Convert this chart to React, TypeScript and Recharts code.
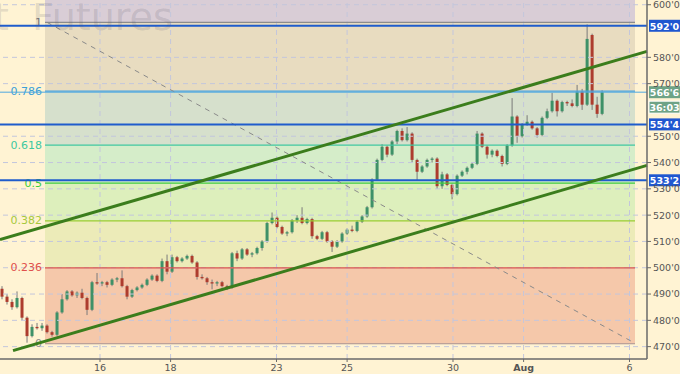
import React from "react";
import { ComposedChart, Bar, XAxis, YAxis, ReferenceArea, ReferenceLine } from "recharts";

// x axis: trading-day index, 0 = Jul 16
const dayTicks = [0, 2, 5, 7, 10, 12, 15];
const dayLabels = ["16", "18", "23", "25", "30", "Aug", "6"];
const priceTicks = [470, 480, 490, 500, 510, 520, 530, 540, 550, 570, 580, 600];

const firstBar = -2.776;
const barStep = 0.14167;

const opens = [
  492, 489, 487, 485, 488.5, 481, 474, 477.5, 477, 478, 475.5, 474.5, 483, 488, 491, 489.5, 490.5, 488.5, 484, 494.5,
  494, 494.5, 493.5, 495.5, 496, 493, 489, 491.5, 492.5, 493.5, 495.5, 497, 495, 502.5, 498.5, 504, 502.5, 503.5, 504.5, 502,
  496.5, 496, 494.5, 494, 494.5, 493, 492.5, 505.5, 503.5, 507, 505, 505.5, 507.5, 510, 517, 519, 515.5, 513, 513.5, 518,
  519, 517, 518.5, 512, 511, 513.5, 510, 508, 510, 513, 514.5, 514, 517.5, 519.5, 523, 533.5, 541, 546, 543, 548,
  552, 548.5, 551, 541, 536.5, 538.5, 541, 541.5, 531, 535.5, 531.5, 528, 535, 536.5, 538, 539.5, 551, 546, 543, 544.5,
  542.5, 539.5, 546.5, 557.5, 550, 554.5, 555.5, 553, 550.5, 557, 559.5, 563.5, 559.5, 563, 562.5, 561.5, 567, 562, 588.5, 562,
  558.5,
];
const highs = [
  493, 490, 488, 491, 489, 481.5, 478.5, 479, 479, 478.5, 476, 483.5, 490, 491.5, 491.5, 491, 492, 489, 495, 498,
  495, 495, 496, 496.5, 499, 493.5, 492, 493, 494, 496, 497.5, 497.5, 503.5, 505, 505, 504.5, 504, 505, 505, 502.5,
  497.5, 496.5, 495.5, 495, 495, 493.5, 506, 506.5, 507.5, 507.5, 506, 508, 510.5, 517.5, 521, 519.5, 516, 514, 518.5, 520,
  523, 519, 519, 512.5, 514, 514, 510.5, 510.5, 513.5, 515, 516, 518, 520, 523.5, 534, 541.5, 547, 546.5, 548.5, 552.5,
  553, 553.5, 551.5, 541.5, 539, 541.5, 542, 542, 536.5, 536, 532, 535.5, 537, 538.5, 540, 552, 551.5, 546.5, 545, 545,
  543, 547, 564.5, 558, 555, 558, 556, 553.5, 557.5, 560.5, 566.5, 564, 563.5, 563.5, 564, 569.5, 568, 592.5, 589, 565,
  567.5,
];
const lows = [
  488, 486, 484, 484.5, 480, 471.5, 473.5, 476.5, 476, 475, 473.8, 474, 482.5, 487.5, 489, 488.5, 488, 482, 483.5, 493.5,
  493, 492.5, 493, 494.5, 492.5, 488, 488.5, 491, 492, 493, 495, 494.5, 494.5, 497.5, 498, 502, 502, 503, 501.5, 495.5,
  495.5, 493.5, 491.8, 493, 492.5, 491.5, 492, 502.5, 503, 504.5, 504, 505, 506.5, 509.5, 516.5, 515, 512.5, 512, 513, 517,
  516.5, 516.5, 511, 510.5, 510.5, 509.5, 506, 507.5, 509.5, 512.5, 513.5, 513.5, 517, 519, 522.5, 533, 540.5, 542, 542.5, 547,
  548, 548, 540, 533, 536, 538, 540, 530, 530, 531, 526, 527.5, 534.5, 535.5, 537.5, 539, 545.5, 541.5, 542, 542,
  538.5, 539, 546, 547.5, 549.5, 554, 552.5, 549.5, 550, 556.5, 559, 557.5, 559, 561.5, 561, 561, 560, 561.5, 560, 557,
  558,
];
const closes = [
  489, 487, 485, 488.5, 481, 474, 477.5, 477, 478, 475.5, 474.5, 483, 488, 491, 489.5, 490.5, 488.5, 484, 494.5, 494,
  494.5, 493.5, 495.5, 496, 493, 489, 491.5, 492.5, 493.5, 495.5, 497, 495, 502.5, 498.5, 504, 502.5, 503.5, 504.5, 502, 496.5,
  496, 494.5, 494, 494.5, 493, 492.5, 505.5, 503.5, 507, 505, 505.5, 507.5, 510, 517, 519, 515.5, 513, 513.5, 518, 519,
  517, 518.5, 512, 511, 513.5, 510, 508, 510, 513, 514.5, 514, 517.5, 519.5, 523, 533.5, 541, 546, 543, 548, 552,
  548.5, 551, 541, 536.5, 538.5, 541, 541.5, 531, 535.5, 531.5, 528, 535, 536.5, 538, 539.5, 551, 546, 543, 544.5, 542.5,
  539.5, 546.5, 557.5, 550, 554.5, 555.5, 553, 550.5, 557, 559.5, 563.5, 559.5, 563, 562.5, 561.5, 567, 562, 587, 562, 558.5,
  566.75,
];

// Fibonacci retracement
const fibLow = 471.1;
const fibHigh = 593.3;
const fibStart = -1.558;
const fibEnd = 15.156;
const fibRatios = [0, 0.236, 0.382, 0.5, 0.618, 0.786, 1];
const fibLabels = ["0", "0.236", "0.382", "0.5", "0.618", "0.786", "1"];
const fibLineColors = ["#a89090", "#d9534f", "#9acd32", "#3fcc3f", "#3fc8a0", "#4aa3df", "#8c8c8c"];
const fibTextColors = ["#8c8c8c", "#e0504c", "#a6c83c", "#38cc38", "#3cc8a0", "#3a9fd8", "#7a7a7a"];
const fibBandColors = ["#f5c8aa", "#ecebb8", "#ddefbc", "#d5edc9", "#d6e0cc", "#e8dcc0", "#d9cdd6"];

const keyLevels = [592, 554.5, 533.25];
const keyLevelLabels = ["592'0", "554'4", "533'2"];
const lastPrice = 566.75;
const lastPriceLabel = "566'6";
const countdown = "36:03";
const watermark = "t Futures";

const upperTrend = [{ t: -2.833, p: 510.7 }, { t: 15.496, p: 582.25 }];
const lowerTrend = [{ t: -2.465, p: 468.5 }, { t: 15.496, p: 538.9 }];
const fibDiagonal = [{ t: -1.5, p: 593.3 }, { t: 15.156, p: 471.3 }];

const X_DOMAIN: [number, number] = [-2.833, 15.496];
const Y_DOMAIN: [number, number] = [465.3, 601.8];
const FONT = "DejaVu Sans";

const candles = closes.map((c, i) => ({
  t: firstBar + i * barStep,
  open: opens[i],
  high: highs[i],
  low: lows[i],
  close: c,
  range: [lows[i], highs[i]],
}));

const Candle = (props: any) => {
  const { x, y, width, height, payload } = props;
  if (!payload) return null;
  const top = Math.min(y, y + height);
  const h = Math.abs(height);
  const { open, close, high, low } = payload;
  const ppu = h / Math.max(0.0001, high - low);
  const bodyTop = top + (high - Math.max(open, close)) * ppu;
  const bodyH = Math.max(1, Math.abs(open - close) * ppu);
  const cx = x + width / 2;
  const up = close >= open;
  return (
    <g>
      <line x1={cx} x2={cx} y1={top} y2={top + h} stroke="#7a7a7a" strokeWidth={1} />
      <rect x={x} y={bodyTop} width={width} height={bodyH} fill={up ? "#3e9168" : "#ad3c2e"} />
    </g>
  );
};

const tagLabel = (text: string, bg: string, dy = 0, border = false) => (props: any) => {
  const vb = props.viewBox || { x: 0, y: 0, width: 0, height: 0 };
  const x = vb.x + vb.width + 2;
  const y = vb.y + dy;
  return (
    <g>
      <rect x={x} y={y - 6} width={31} height={12} fill={bg} stroke={border ? "#ffffff" : "none"} strokeWidth={1} />
      <text x={x + 15.5} y={y + 0.5} textAnchor="middle" dominantBaseline="central" fill="#ffffff"
        fontSize={9.5} fontWeight="bold" fontFamily={FONT}>{text}</text>
    </g>
  );
};

const fibText = (text: string, color: string) => (props: any) => {
  const vb = props.viewBox || { x: 0, y: 0, width: 0, height: 0 };
  return (
    <text x={vb.x - 3} y={vb.y} textAnchor="end" dominantBaseline="central" fill={color}
      fontSize={11} fontFamily={FONT}>{text}</text>
  );
};

const XTick = (props: any) => {
  const { x, y, payload } = props;
  const i = dayTicks.indexOf(payload.value);
  const label = i >= 0 ? dayLabels[i] : "";
  return (
    <text x={x} y={y} dy="0.71em" textAnchor="middle" fill="#555" fontSize={9.5} fontFamily={FONT}
      fontWeight={label === "Aug" ? "bold" : "normal"}>{label}</text>
  );
};

const fibLevel = (r: number) => fibLow + r * (fibHigh - fibLow);

export default function App() {
  return (
    <div style={{ position: "fixed", left: 0, top: 0, width: 680, height: 374, background: "#fff3d3", overflow: "hidden" }}>
      <style>{"body{margin:0}"}</style>
      <ComposedChart width={680} height={374} data={candles} margin={{ top: 0, right: 0, bottom: 0, left: 0 }}>
        <XAxis dataKey="t" type="number" domain={X_DOMAIN} allowDataOverflow ticks={dayTicks} tick={<XTick />}
          height={15} tickSize={3} axisLine={{ stroke: "#6a6a6a", strokeWidth: 1.5 }} tickLine={{ stroke: "#6a6a6a" }} interval={0} />
        <YAxis orientation="right" type="number" domain={Y_DOMAIN} allowDataOverflow ticks={priceTicks} width={33}
          tickFormatter={(v: number) => `${v}'0`} tickSize={4} interval={0}
          tick={{ fill: "#555", fontSize: 9.5, fontFamily: FONT }}
          axisLine={{ stroke: "#6a6a6a", strokeWidth: 1.5 }} tickLine={{ stroke: "#6a6a6a" }} />

        {fibBandColors.map((c, i) => (
          <ReferenceArea key={"band" + i} x1={fibStart} x2={fibEnd}
            y1={fibLevel(fibRatios[i])} y2={i + 1 < fibRatios.length ? fibLevel(fibRatios[i + 1]) : Y_DOMAIN[1]}
            fill={c} fillOpacity={1} stroke="none" ifOverflow="visible" />
        ))}

        {priceTicks.map((p) => (
          <ReferenceLine key={"gy" + p} y={p} stroke="#c3c6dc" strokeDasharray="5 4" strokeWidth={1} />
        ))}
        {dayTicks.map((d) => (
          <ReferenceLine key={"gx" + d} x={d} stroke="#c3c6dc" strokeDasharray="5 4" strokeWidth={1} />
        ))}

        {fibRatios.map((r, i) => (
          <ReferenceLine key={"fib" + i} ifOverflow="visible"
            segment={[{ x: fibStart, y: fibLevel(r) }, { x: fibEnd, y: fibLevel(r) }]}
            stroke={fibLineColors[i]} strokeWidth={1.2}
            label={fibText(fibLabels[i], fibTextColors[i])} />
        ))}

        <ReferenceLine ifOverflow="visible"
          segment={[{ x: fibDiagonal[0].t, y: fibDiagonal[0].p }, { x: fibDiagonal[1].t, y: fibDiagonal[1].p }]}
          stroke="#8a8a8a" strokeDasharray="5 5" strokeWidth={1} />

        <ReferenceLine y={lastPrice} stroke="#4fa8e0" strokeWidth={1} label={tagLabel(lastPriceLabel, "#6ea386")} />
        <ReferenceLine y={lastPrice} stroke="none" label={tagLabel(countdown, "#6ea386", 15, true)} />

        {keyLevels.map((p, i) => (
          <ReferenceLine key={"key" + i} y={p} stroke="#1f5ccc" strokeWidth={2}
            label={tagLabel(keyLevelLabels[i], "#1f57d0")} />
        ))}

        <ReferenceLine ifOverflow="visible"
          segment={[{ x: upperTrend[0].t, y: upperTrend[0].p }, { x: upperTrend[1].t, y: upperTrend[1].p }]}
          stroke="#3b7d1c" strokeWidth={3} />
        <ReferenceLine ifOverflow="visible"
          segment={[{ x: lowerTrend[0].t, y: lowerTrend[0].p }, { x: lowerTrend[1].t, y: lowerTrend[1].p }]}
          stroke="#3b7d1c" strokeWidth={3} />

        <Bar dataKey="range" barSize={3} shape={<Candle />} isAnimationActive={false} />
      </ComposedChart>
      <div style={{ position: "absolute", left: -6, top: -3, fontFamily: FONT, fontSize: 38, wordSpacing: 11,
        color: "rgba(90,90,110,0.18)", whiteSpace: "nowrap", pointerEvents: "none", lineHeight: "40px" }}>
        {watermark}
      </div>
    </div>
  );
}
